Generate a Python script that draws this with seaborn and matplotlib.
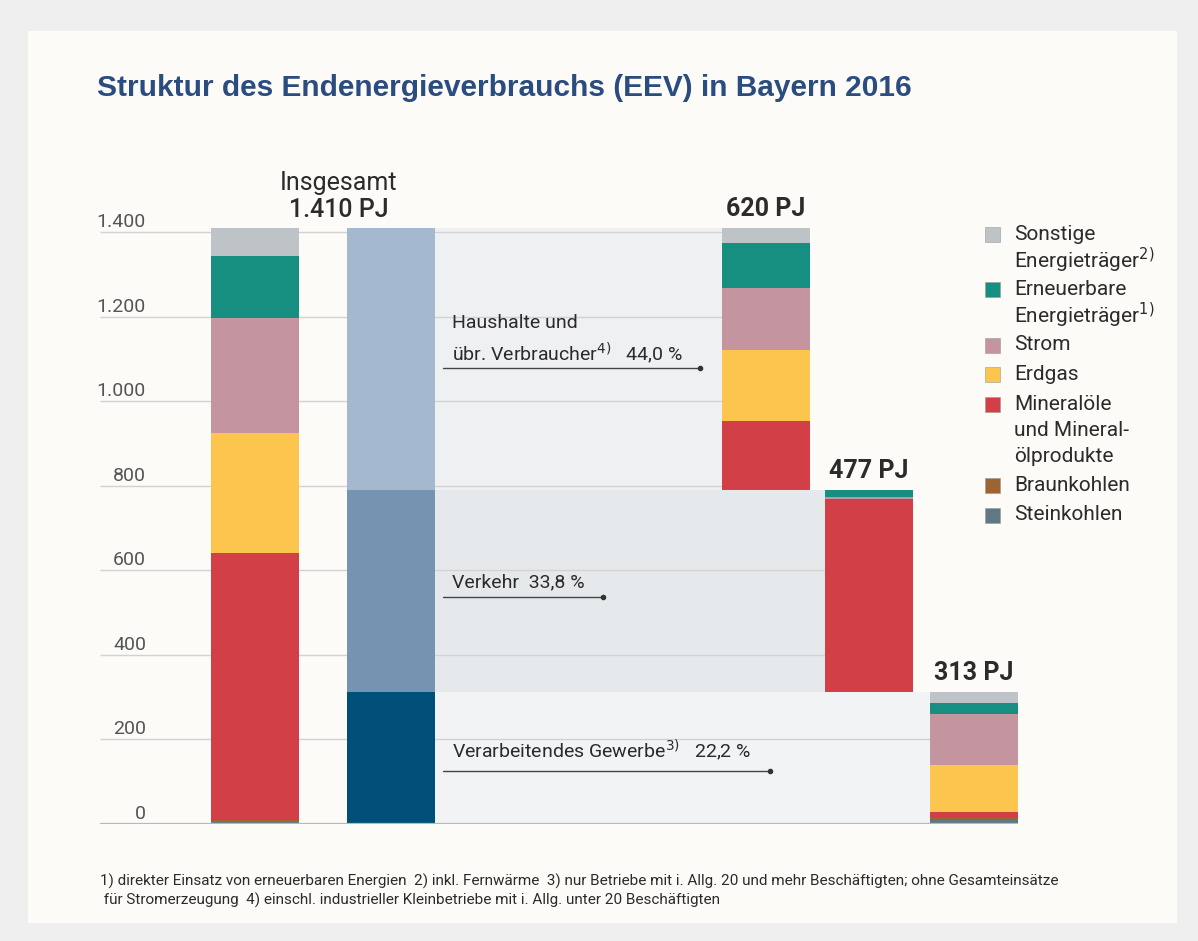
import numpy as np
import pandas as pd
import matplotlib
matplotlib.use("Agg")
import matplotlib.pyplot as plt
from matplotlib.patches import Rectangle
import seaborn as sns

# === DATEN (PJ), gestapelt von unten nach oben
traeger = ["Steinkohlen", "Braunkohlen", "Mineralöle", "Erdgas", "Strom", "Erneuerbare", "Sonstige"]
insgesamt = [7, 3, 630, 284, 273, 146, 67]
gewerbe = [9, 5, 14, 111, 122, 26, 26]
verkehr = [0, 0, 456, 0, 5, 16, 0]
haushalte = [1, 1, 161, 168, 146, 107, 36]

# Sektoren, unten -> oben
sektor_pj = [313, 477, 620]
sektor_namen = ["Verarbeitendes Gewerbe$^{3)}$", "Verkehr", "Haushalte und\nübr. Verbraucher$^{4)}$"]
sektor_abstand = ["   ", "  ", "   "]

y_ticks = [0, 200, 400, 600, 800, 1000, 1200, 1400]

legend_texte = {
    "Sonstige": ["Sonstige", "Energieträger$^{2)}$"],
    "Erneuerbare": ["Erneuerbare", "Energieträger$^{1)}$"],
    "Strom": ["Strom"],
    "Erdgas": ["Erdgas"],
    "Mineralöle": ["Mineralöle", "und Mineral-", "ölprodukte"],
    "Braunkohlen": ["Braunkohlen"],
    "Steinkohlen": ["Steinkohlen"],
}

fussnote = ("1) direkter Einsatz von erneuerbaren Energien  2) inkl. Fernwärme  3) nur Betriebe mit i. Allg. 20 "
            "und mehr Beschäftigten; ohne Gesamteinsätze\n für Stromerzeugung  4) einschl. industrieller "
            "Kleinbetriebe mit i. Allg. unter 20 Beschäftigten")

# === STIL
FARBEN = {
    "Steinkohlen": "#5f7883",
    "Braunkohlen": "#9b6431",
    "Mineralöle": "#d33f46",
    "Erdgas": "#fcc64e",
    "Strom": "#c4949f",
    "Erneuerbare": "#168f80",
    "Sonstige": "#bec3c7",
}
SEKTOR_FARBEN = ["#004f78", "#7594b2", "#a4b8cf"]
BAND_FARBEN = ["#f2f3f4", "#e6e9ec", "#eff0f2"]
TEXT = "#2b2b2b"
W, H = 1198, 941
PX = 592 / 1400          # Pixel pro PJ
POS_TOTAL, POS_SEKTOR = 254.5, 391
SEK_POS = [973.5, 869, 766]
BAR_W = 88

sns.set_style("white")
plt.rcParams["font.family"] = ["Roboto", "DejaVu Sans"]
plt.rcParams["mathtext.fontset"] = "dejavusans"

fig = plt.figure(figsize=(W / 100, H / 100), dpi=100, facecolor="#efefef")
fig.patches.append(Rectangle((28 / W, 1 - 923 / H), (1177 - 28) / W, (923 - 31) / H,
                             transform=fig.transFigure, facecolor="#fcfbf8", edgecolor="none", zorder=-5))
ax = fig.add_axes([0, 1 - 824 / H, 1, 1500 * PX / H])
ax.set_facecolor("none")

sek_bottom = np.concatenate([[0], np.cumsum(sektor_pj)[:-1]])
sek_top = sek_bottom + np.array(sektor_pj)
total = sum(sektor_pj)

# === BÄNDER hinter den Sektoren
for i in range(3):
    ax.fill_between([POS_SEKTOR + BAR_W / 2, SEK_POS[i] - BAR_W / 2], sek_bottom[i], sek_top[i],
                    color=BAND_FARBEN[i], lw=0, zorder=0.5)

# Gitterlinien bis zum jeweiligen Sektorbalken
for t in y_ticks[1:]:
    i = [k for k in range(3) if sek_bottom[k] <= t < sek_top[k]][0]
    ax.hlines(t, 100, SEK_POS[i] - BAR_W / 2, color="#d2d2d2", lw=1, zorder=1)
ax.hlines(0, 100, SEK_POS[0] + BAR_W / 2, color="#b8b8b8", lw=1.6, zorder=4)
for t in y_ticks:
    ax.text(146, t + 5 / PX, f"{t:,}".replace(",", "."), ha="right", va="baseline",
            fontsize=14, color="#555555")

# === GESTAPELTE BALKEN
stack = pd.DataFrame([insgesamt, gewerbe, verkehr, haushalte], columns=traeger)
stack["pos"] = [POS_TOTAL] + SEK_POS
stack["base"] = [0] + list(sek_bottom)
stack = stack.sort_values("pos").reset_index(drop=True)
native = np.min(np.diff(stack["pos"].values))
bottoms = stack["base"].astype(float).values.copy()
for t in traeger:
    sns.barplot(x=stack["pos"], y=stack[t], bottom=bottoms.copy(), native_scale=True, orient="x",
                width=BAR_W / native, color=FARBEN[t], saturation=1, errorbar=None,
                linewidth=0, zorder=3, ax=ax)
    bottoms += stack[t].values

# Sektorbalken
for i in range(3):
    sns.barplot(x=[POS_SEKTOR], y=[sektor_pj[i]], bottom=sek_bottom[i], native_scale=True, orient="x",
                width=BAR_W, color=SEKTOR_FARBEN[i], saturation=1, errorbar=None,
                linewidth=0, zorder=3, ax=ax)

ax.set_xlim(0, W)
ax.set_ylim(0, 1500)
ax.axis("off")

# === BESCHRIFTUNGEN
ax.text(339, (824 - 183) / PX, "Insgesamt", ha="center", va="center", fontsize=18, color=TEXT)
ax.text(339, total + 18 / PX, f"{total:,} PJ".replace(",", "."), ha="center", va="center",
        fontsize=18, color=TEXT, fontweight="medium")
for i in range(3):
    ax.text(SEK_POS[i], sek_top[i] + 19 / PX, f"{sektor_pj[i]} PJ", ha="center", va="center",
            fontsize=18, color=TEXT, fontweight="bold")

# Sektor-Annotationen: (Text-y px, Linien-y px, Linien-Ende px)
annot = [(750, 771, 770), (582, 597, 603), (340, 368, 700)]
for i in range(3):
    ty, ly, lx = annot[i]
    pct = f"{sektor_pj[i] / total * 100:.1f} %".replace(".", ",")
    ax.text(452, (824 - ty) / PX, sektor_namen[i] + sektor_abstand[i] + pct, ha="left", va="center",
            fontsize=14, color=TEXT, linespacing=1.4)
    ax.plot([443, lx], [(824 - ly) / PX] * 2, color="#444444", lw=1, zorder=5)
    ax.plot([lx], [(824 - ly) / PX], "o", color="#333333", ms=3, zorder=5)

# === LEGENDE
y = 234
for t in traeger[::-1]:
    fig.patches.append(Rectangle((985 / W, 1 - (y + 7.5) / H), 15 / W, 15 / H, transform=fig.transFigure,
                                 facecolor=FARBEN[t], edgecolor="#9a9a9a", lw=0.4))
    for line in legend_texte[t]:
        fig.text(1014 / W, 1 - y / H, line, ha="left", va="center", fontsize=15, color=TEXT)
        y += 26
    y += 3.5

# === TITEL & FUSSNOTE
fig.text(97 / W, 1 - 96 / H, "Struktur des Endenergieverbrauchs (EEV) in Bayern 2016", ha="left",
         va="baseline", fontsize=21.5, fontweight="bold", color="#2b4c7e",
         family=["Liberation Sans", "DejaVu Sans"])
fig.text(100 / W, 1 - 891 / H, fussnote, ha="left", va="center", fontsize=11, color=TEXT,
         linespacing=1.35)

fig.savefig("out.png", dpi=100, facecolor=fig.get_facecolor())
